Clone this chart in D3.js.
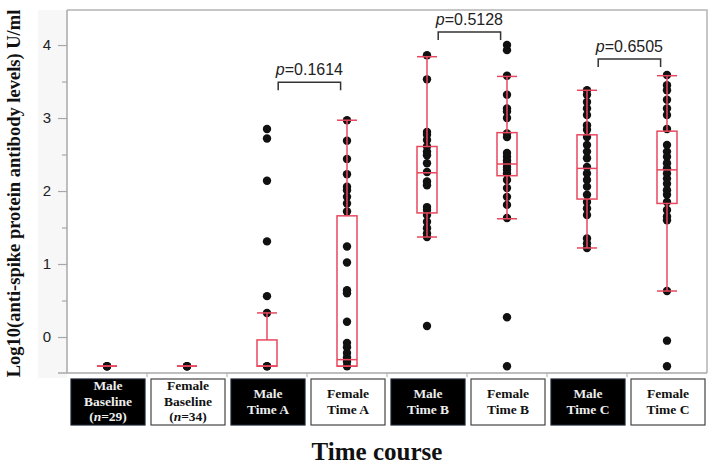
<!DOCTYPE html>
<html>
<head>
<meta charset="utf-8">
<script src="https://cdn.jsdelivr.net/npm/d3@7"></script>
<style>
  body { margin: 0; background: #fff; }
  svg { display: block; }
</style>
</head>
<body>
<div id="chart"></div>
<script>
// groups along the x axis
const categories = ['Male Baseline', 'Female Baseline', 'Male Time A', 'Female Time A',
                    'Male Time B', 'Female Time B', 'Male Time C', 'Female Time C'];
const labelLines = [
    ['Male', 'Baseline', '(n=29)'], ['Female', 'Baseline', '(n=34)'],
    ['Male', 'Time A'], ['Female', 'Time A'],
    ['Male', 'Time B'], ['Female', 'Time B'],
    ['Male', 'Time C'], ['Female', 'Time C']
];
const isMale = [true, false, true, false, true, false, true, false];

// log10 antibody values
const maleBaseline = [-0.40, -0.40, -0.40];
const femaleBaseline = [-0.40, -0.40, -0.40];
const maleA = [2.85, 2.72, 2.14, 1.31, 0.56, 0.33, -0.40, -0.40];
const femaleA = [2.97, 2.69, 2.44, 2.23, 2.06, 2.01, 1.92, 1.83, 1.72, 1.24, 1.02, 0.64, 0.60,
                 0.21, -0.08, -0.14, -0.22, -0.28, -0.34, -0.40];
const maleB = [3.86, 3.53, 2.81, 2.77, 2.70, 2.61, 2.54, 2.49, 2.38, 2.26, 2.13, 2.08, 1.78,
               1.74, 1.67, 1.58, 1.49, 1.42, 1.37, 0.15];
const femaleB = [4.00, 3.93, 3.58, 3.32, 3.13, 3.09, 3.00, 2.79, 2.74, 2.52, 2.47, 2.42, 2.38,
                 2.33, 2.29, 2.24, 2.15, 2.04, 1.92, 1.81, 1.63, 0.27, -0.40];
const maleC = [3.38, 3.32, 3.22, 3.13, 3.04, 2.90, 2.84, 2.74, 2.63, 2.54, 2.45, 2.33, 2.24,
               2.15, 2.06, 1.95, 1.85, 1.76, 1.67, 1.35, 1.28, 1.22];
const femaleC = [3.59, 3.45, 3.38, 3.25, 3.13, 3.04, 2.85, 2.63, 2.54, 2.47, 2.38, 2.31, 2.24,
                 2.17, 2.10, 2.01, 1.95, 1.85, 1.74, 1.65, 1.60, 0.63, -0.05, -0.40];
const groupValues = [maleBaseline, femaleBaseline, maleA, femaleA, maleB, femaleB, maleC, femaleC];

// box stats: [lower whisker, q1, median, q3, upper whisker]
const boxStats = [
    [-0.40, -0.40, -0.40, -0.40, -0.40],
    [-0.40, -0.40, -0.40, -0.40, -0.40],
    [-0.40, -0.40, -0.40, -0.04, 0.33],
    [-0.40, -0.40, -0.31, 1.66, 2.97],
    [1.37, 1.70, 2.25, 2.61, 3.84],
    [1.62, 2.21, 2.37, 2.80, 3.57],
    [1.22, 1.89, 2.31, 2.77, 3.38],
    [0.63, 1.83, 2.29, 2.82, 3.58]
];

// p-value comparisons
const comparePairs = [['Male Time A', 'Female Time A'], ['Male Time B', 'Female Time B'], ['Male Time C', 'Female Time C']];
const pValues = ['0.1614', '0.5128', '0.6505'];
const bracketLevels = [3.49, 4.18, 3.81];

const yTicks = [0, 1, 2, 3, 4];
const yMinorTicks = [-0.5, 0.5, 1.5, 2.5, 3.5];

const svgWidth = 716, svgHeight = 466;
const plot = {left: 67, right: 707, top: 10, bottom: 373};
const red = '#e8485f';
const serif = '"Liberation Serif", "Times New Roman", serif';
const sans = '"Liberation Sans", Arial, sans-serif';

const svg = d3.select('#chart').append('svg')
    .attr('width', svgWidth)
    .attr('height', svgHeight);

const x = d3.scaleBand().domain(categories).range([plot.left, plot.right]).padding(0);
const y = d3.scaleLinear().domain([-0.493, 4.48]).range([plot.bottom, plot.top]);
const bw = x.bandwidth();
const cx = c => x(c) + bw / 2;

// faint strip behind the tick labels
svg.append('rect')
    .attr('x', 38).attr('y', plot.top)
    .attr('width', plot.left - 38).attr('height', plot.bottom + 5 - plot.top)
    .attr('fill', '#f7f7f7');

// frame
svg.append('path')
    .attr('d', `M${plot.left},${plot.top}H${plot.right}V${plot.bottom}`)
    .attr('fill', 'none')
    .attr('stroke', '#b4b4b4')
    .attr('stroke-width', 1.5);

// y axis
const yAxis = svg.append('g')
    .attr('transform', `translate(${plot.left},0)`)
    .call(d3.axisLeft(y).tickValues(yTicks).tickSize(9).tickPadding(7).tickFormat(d3.format('d')));
yAxis.append('g')
    .call(d3.axisLeft(y).tickValues(yMinorTicks.filter(v => v > -0.49)).tickSize(5).tickFormat(''))
    .select('.domain').remove();
yAxis.selectAll('.domain').attr('stroke', '#a8a8a8').attr('stroke-width', 1.5)
    .attr('d', `M0,${plot.top}V${plot.bottom}`);
yAxis.selectAll('.tick line').attr('stroke', '#a8a8a8').attr('stroke-width', 1.2);
yAxis.selectAll('.tick text')
    .attr('font-family', sans)
    .attr('font-size', 15)
    .attr('fill', '#222');

// x axis line with small ticks at group boundaries
svg.append('line')
    .attr('x1', plot.left - 9).attr('x2', plot.right)
    .attr('y1', plot.bottom).attr('y2', plot.bottom)
    .attr('stroke', '#a8a8a8').attr('stroke-width', 1.5);
svg.append('g').selectAll('line')
    .data(categories.slice(1))
    .join('line')
    .attr('x1', d => x(d)).attr('x2', d => x(d))
    .attr('y1', plot.bottom).attr('y2', plot.bottom + 4)
    .attr('stroke', '#a8a8a8');

// points
categories.forEach((c, i) => {
    svg.append('g').selectAll('circle')
        .data(groupValues[i])
        .join('circle')
        .attr('cx', cx(c))
        .attr('cy', d => y(d))
        .attr('r', 4.2)
        .attr('fill', '#111');
});

// box plots drawn over the points
const boxW = bw * 0.25;
categories.forEach((c, i) => {
    const [lo, q1, med, q3, hi] = boxStats[i];
    const g = svg.append('g')
        .attr('fill', 'none')
        .attr('stroke', red)
        .attr('stroke-width', 1.5);
    g.append('line').attr('x1', cx(c)).attr('x2', cx(c)).attr('y1', y(q3)).attr('y2', y(hi));
    g.append('line').attr('x1', cx(c)).attr('x2', cx(c)).attr('y1', y(q1)).attr('y2', y(lo));
    [lo, hi].forEach(v => {
        g.append('line')
            .attr('x1', cx(c) - boxW / 2).attr('x2', cx(c) + boxW / 2)
            .attr('y1', y(v)).attr('y2', y(v));
    });
    g.append('rect')
        .attr('x', cx(c) - boxW / 2).attr('width', boxW)
        .attr('y', y(q3)).attr('height', y(q1) - y(q3));
    g.append('line')
        .attr('x1', cx(c) - boxW / 2).attr('x2', cx(c) + boxW / 2)
        .attr('y1', y(med)).attr('y2', y(med));
});

// p-value brackets
comparePairs.forEach((pair, i) => {
    const x1 = x(pair[0]) + bw * 0.64;
    const x2 = x(pair[1]) + bw * 0.42;
    const by = y(bracketLevels[i]);
    svg.append('path')
        .attr('d', `M${x1},${by + 8}V${by}H${x2}V${by + 8}`)
        .attr('fill', 'none')
        .attr('stroke', '#333')
        .attr('stroke-width', 1.5);
    const t = svg.append('text')
        .attr('x', (x1 + x2) / 2)
        .attr('y', by - 7)
        .attr('text-anchor', 'middle')
        .attr('font-family', sans)
        .attr('font-size', 16)
        .attr('fill', '#222');
    t.append('tspan').attr('font-style', 'italic').text('p');
    t.append('tspan').text('=' + pValues[i]);
});

// category label boxes
const labelTop = 379, labelH = 46, labelW = 74;
categories.forEach((c, i) => {
    const g = svg.append('g');
    g.append('rect')
        .attr('x', cx(c) - labelW / 2 + 1).attr('y', labelTop)
        .attr('width', labelW).attr('height', labelH)
        .attr('fill', isMale[i] ? '#000' : '#fff')
        .attr('stroke', isMale[i] ? '#1a2030' : '#444')
        .attr('stroke-width', 1.2);
    const lines = labelLines[i];
    const first = lines.length === 3 ? 390 : 398;
    lines.forEach((ln, k) => {
        const t = g.append('text')
            .attr('x', cx(c) + 1)
            .attr('y', first + k * 15.5)
            .attr('text-anchor', 'middle')
            .attr('font-family', serif)
            .attr('font-weight', 'bold')
            .attr('font-size', 13.5)
            .attr('fill', isMale[i] ? '#eee' : '#111');
        const m = ln.match(/^\((n)(=.*)$/);
        if (m) {
            t.append('tspan').text('(');
            t.append('tspan').attr('font-style', 'italic').text('n');
            t.append('tspan').text(m[2]);
        } else {
            t.text(ln);
        }
    });
});

// axis titles
svg.append('text')
    .attr('x', 377).attr('y', 460)
    .attr('text-anchor', 'middle')
    .attr('font-family', serif)
    .attr('font-weight', 'bold')
    .attr('font-size', 25)
    .attr('fill', '#111')
    .text('Time course');

svg.append('text')
    .attr('transform', 'translate(20,193.5) rotate(-90)')
    .attr('text-anchor', 'middle')
    .attr('font-family', serif)
    .attr('font-weight', 'bold')
    .attr('font-size', 18.5)
    .attr('fill', '#111')
    .text('Log10(anti-spike protein antibody levels) U/ml');
</script>
</body>
</html>
